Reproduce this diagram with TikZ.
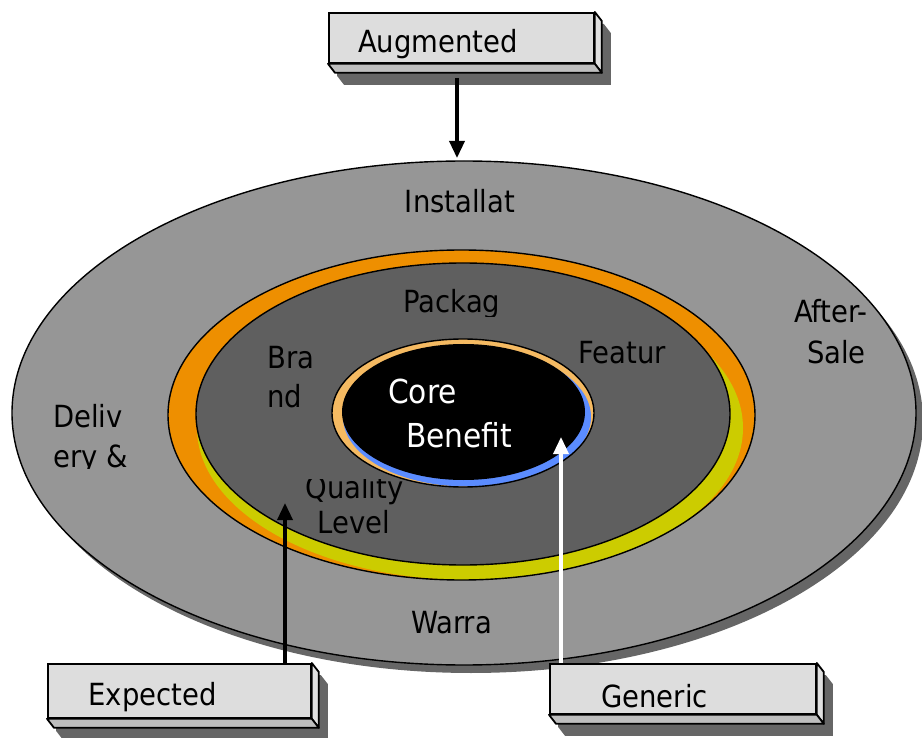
\documentclass[tikz,border=0pt]{standalone}
\usepackage{fontspec}
\setmainfont{DejaVu Sans Condensed}
\usetikzlibrary{arrows.meta,calc,backgrounds}
\definecolor{ringgray}{HTML}{969696}
\definecolor{innergray}{HTML}{5F5F5F}
\definecolor{shadowgray}{HTML}{666666}
\definecolor{ringorange}{HTML}{EE8F00}
\definecolor{ringyellow}{HTML}{CCCC00}
\definecolor{coreorange}{HTML}{F5BA62}
\definecolor{coreblue}{HTML}{5B8CFF}
\definecolor{boxface}{HTML}{DDDDDD}
\definecolor{boxbottom}{HTML}{BEBEBE}
\definecolor{boxside}{HTML}{E0E0E0}
\newcommand\extrudebox[1]{%
  \begin{pgfonlayer}{background}
  \fill[shadowgray] ($(#1.north west)+(9,12)$) -- ($(#1.north east)+(9,12)$) -- ($(#1.north east)+(16,21)$)
     -- ($(#1.south east)+(16,21)$) -- ($(#1.south west)+(16,21)$) -- ($(#1.south west)+(9,12)$) -- cycle;
  \end{pgfonlayer}
  \filldraw[fill=boxside, draw=black, line width=1.8pt, line join=round] (#1.north east) -- ($(#1.north east)+(7,9)$)
     -- ($(#1.south east)+(7,9)$) -- (#1.south east) -- cycle;
  \filldraw[fill=boxbottom, draw=black, line width=1.8pt, line join=round] (#1.south west) -- ($(#1.south west)+(7,9)$)
     -- ($(#1.south east)+(7,9)$) -- (#1.south east) -- cycle;
}
\begin{document}
\begin{tikzpicture}[x=1pt,y=-1pt,
  lbl/.style={font=\fontsize{30.5}{36}\selectfont, inner sep=0pt, anchor=base},
  corelbl/.style={font=\fontsize{33}{40}\selectfont, inner sep=0pt, anchor=base west, white},
  face/.style={draw=black, line width=1.8pt, fill=boxface, inner sep=0pt, anchor=north west},
  ringline/.style={draw=black, line width=1.4pt},
  arr/.style={line width=3.4pt, -{Triangle[length=17pt,width=15pt]}},
]
\useasboundingbox (0,0) rectangle (922,738);

% outer ring
\coordinate (oc) at (464,413);
\fill[shadowgray] ($(oc)+(7,8)$) ellipse [x radius=452pt, y radius=252pt];
\filldraw[fill=ringgray, ringline] (oc) ellipse [x radius=452pt, y radius=252pt];

% orange / yellow ring
\coordinate (orc) at (461.5,415);
\fill[ringorange] (orc) ellipse [x radius=293.5pt, y radius=165pt];
\begin{scope}
  \clip (orc) ellipse [x radius=293.5pt, y radius=165pt];
  \fill[ringyellow] (470,428) ellipse [x radius=273pt, y radius=152pt];
\end{scope}
\draw[ringline] (orc) ellipse [x radius=293.5pt, y radius=165pt];

% inner dark
\filldraw[fill=innergray, ringline] (463,414) ellipse [x radius=267pt, y radius=151pt];

% core
\coordinate (cc) at (463,413);
\fill[coreorange] (cc) ellipse [x radius=131pt, y radius=74pt];
\begin{scope}
  \clip (cc) ellipse [x radius=131pt, y radius=74pt];
  \fill[coreblue] (467,417) ellipse [x radius=124pt, y radius=69.5pt];
\end{scope}
\fill[black] (463.5,412) ellipse [x radius=121.5pt, y radius=68pt];
\draw[ringline] (cc) ellipse [x radius=131pt, y radius=74pt];

% labels in the rings
\node[lbl] (inst) at (460,213) {Installat};
\begin{scope}
  \clip (380,280) rectangle (530,317);
  \node[lbl] (pack) at (452,313) {Packag};
\end{scope}
\node[lbl] (feat) at (622,363) {Featur};
\node[lbl, anchor=base west] (brand1) at (267,368) {Bra};
\node[lbl, anchor=base west] (brand2) at (267,407) {nd};
\node[lbl, anchor=base east] (after1) at (868,323) {After-};
\node[lbl, anchor=base east] (after2) at (866,363) {Sale};
\node[lbl, anchor=base west] (deliv1) at (53,427) {Deliv};
\begin{scope}
  \clip (40,432) rectangle (160,468);
  \node[lbl, anchor=base west] (deliv2) at (53,467) {ery \&};
\end{scope}
\begin{scope}
  \clip (290,479) rectangle (420,510);
  \node[lbl] (qual1) at (354.5,498) {Quality};
\end{scope}
\node[lbl] (qual2) at (354,533) {Level};
\node[corelbl] (core1) at (388,403) {Core};
\node[corelbl] (core2) at (406,447) {Benefit};
\node[lbl] (warra) at (451.5,633) {Warra};

% boxes
\node[face, minimum width=265pt, minimum height=50pt] (aug) at (328,12) {};
\extrudebox{aug}
\node[lbl] (augtxt) at (438,53) {Augmented};

\node[face, minimum width=263pt, minimum height=54pt] (exp) at (47,663) {};
\extrudebox{exp}
\node[lbl] (exptxt) at (152.5,705) {Expected};

\node[face, minimum width=266pt, minimum height=50pt] (gen) at (549,663) {};
\extrudebox{gen}
\node[lbl] (gentxt) at (654.5,707) {Generic};

% arrows
\coordinate (augtip) at (457,158);
\coordinate (exptip) at (285,503);
\coordinate (gentip) at (561,437);
\draw[arr] ($(augtip |- aug.south)+(0,14)$) -- (augtip);
\draw[arr] (exptip |- exp.north) -- (exptip);
\draw[arr, white] (gentip |- gen.north) -- (gentip);
\end{tikzpicture}
\end{document}
